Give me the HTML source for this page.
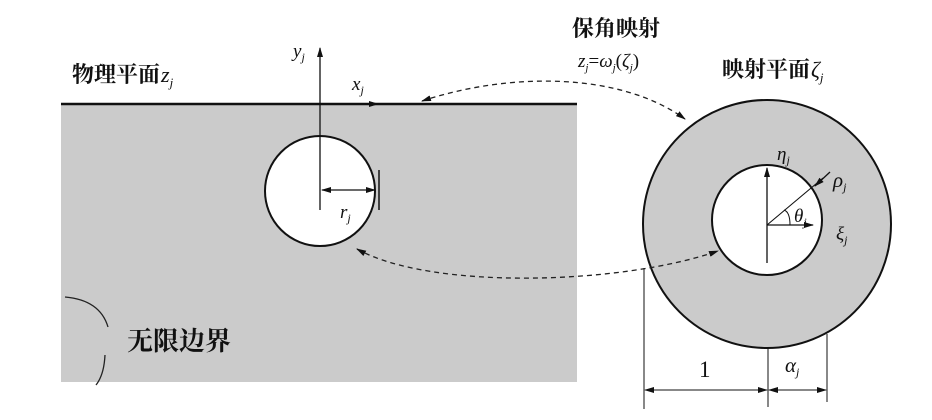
<!DOCTYPE html>
<html><head><meta charset="utf-8"><style>
body{margin:0;background:#fff}
.s{font-family:"Liberation Serif","DejaVu Serif",serif;fill:#111}
.cj{font-family:"Noto Serif CJK SC","Noto Sans CJK SC",serif;font-weight:bold;fill:#111}
</style></head><body>
<svg width="932" height="415" viewBox="0 0 932 415" xmlns="http://www.w3.org/2000/svg">
<defs><marker id="a" markerWidth="10" markerHeight="8" refX="9" refY="4" orient="auto-start-reverse" markerUnits="userSpaceOnUse"><path d="M0,1 L10,4 L0,7z" fill="#111"/></marker></defs>
<rect x="61" y="104" width="516" height="278" fill="#cbcbcb"/>
<line x1="61" y1="104" x2="577" y2="104" stroke="#111" stroke-width="2.5"/>
<circle cx="320" cy="191" r="55" fill="#fff" stroke="#111" stroke-width="2"/>
<line x1="320" y1="210" x2="320" y2="48" stroke="#111" stroke-width="1.3" marker-end="url(#a)"/>
<line x1="360" y1="104" x2="378" y2="104" stroke="#111" stroke-width="1" marker-end="url(#a)"/>
<line x1="322" y1="190" x2="375" y2="190" stroke="#111" stroke-width="1.2" marker-end="url(#a)" marker-start="url(#a)"/>
<line x1="379" y1="170" x2="379" y2="210" stroke="#111" stroke-width="1.5"/>
<text class="s" x="293" y="57" font-size="19" font-style="italic">y<tspan font-size="12" dy="4">j</tspan></text>
<text class="s" x="352" y="90" font-size="19" font-style="italic">x<tspan font-size="12" dy="4">j</tspan></text>
<text class="s" x="340" y="218" font-size="19" font-style="italic">r<tspan font-size="12" dy="4">j</tspan></text>
<text class="cj" x="72" y="82" font-size="22">物理平面</text><text class="s" x="161" y="82" font-size="22" font-style="italic">z<tspan font-size="13" dy="5">j</tspan></text>
<path d="M65,297 Q100,300 108,327" fill="none" stroke="#222" stroke-width="1.3"/>
<path d="M105,355 Q104,375 96,385" fill="none" stroke="#222" stroke-width="1.3"/>
<text class="cj" x="127" y="350" font-size="26">无限边界</text>
<circle cx="767" cy="224" r="124" fill="#cbcbcb" stroke="#111" stroke-width="2"/>
<circle cx="767" cy="220" r="55" fill="#fff" stroke="#111" stroke-width="2"/>
<line x1="767" y1="263" x2="767" y2="168" stroke="#111" stroke-width="1.3" marker-end="url(#a)"/>
<line x1="767" y1="225" x2="813" y2="225" stroke="#111" stroke-width="1.3" marker-end="url(#a)"/>
<line x1="767" y1="225" x2="823" y2="178" stroke="#111" stroke-width="1.1"/>
<line x1="830" y1="172" x2="815" y2="186" stroke="#111" stroke-width="1.3" marker-end="url(#a)"/>
<path d="M790,225 Q790,212 784,210" fill="none" stroke="#111" stroke-width="1"/>
<text class="s" x="777" y="160" font-size="19" font-style="italic">η<tspan font-size="12" dy="4">j</tspan></text>
<text class="s" x="833" y="187" font-size="21" font-style="italic">ρ<tspan font-size="12" dy="4">j</tspan></text>
<text class="s" x="794" y="222" font-size="19" font-style="italic">θ<tspan font-size="12" dy="4">j</tspan></text>
<text class="s" x="836" y="240" font-size="19" font-style="italic">ξ<tspan font-size="12" dy="4">j</tspan></text>
<line x1="644" y1="268" x2="644" y2="409" stroke="#111" stroke-width="1"/>
<line x1="768" y1="348" x2="768" y2="407" stroke="#111" stroke-width="1"/>
<line x1="827" y1="334" x2="827" y2="402" stroke="#111" stroke-width="1"/>
<line x1="645" y1="390" x2="767" y2="390" stroke="#111" stroke-width="1" marker-end="url(#a)" marker-start="url(#a)"/>
<line x1="769" y1="390" x2="826" y2="390" stroke="#111" stroke-width="1" marker-end="url(#a)" marker-start="url(#a)"/>
<text class="s" x="699" y="377" font-size="23">1</text>
<text class="s" x="785" y="372" font-size="21" font-style="italic">α<tspan font-size="12" dy="4">j</tspan></text>
<text class="cj" x="572" y="36" font-size="22">保角映射</text>
<text class="s" x="578" y="67" font-size="19" font-style="italic">z<tspan font-size="11" dy="4">j</tspan><tspan dy="-4" font-style="normal">=</tspan>ω<tspan font-size="11" dy="4">j</tspan><tspan dy="-4" font-style="normal">(</tspan>ζ<tspan font-size="11" dy="4">j</tspan><tspan dy="-4" font-style="normal">)</tspan></text>
<text class="cj" x="722" y="77" font-size="22">映射平面</text><text class="s" x="811" y="77" font-size="22" font-style="italic">ζ<tspan font-size="13" dy="5">j</tspan></text>
<path d="M422,101 C510,72 620,72 685,119" fill="none" stroke="#222" stroke-width="1.3" stroke-dasharray="5,4" marker-end="url(#a)" marker-start="url(#a)"/>
<path d="M357,249 C430,290 620,285 718,251" fill="none" stroke="#222" stroke-width="1.3" stroke-dasharray="5,4" marker-end="url(#a)" marker-start="url(#a)"/>
</svg>
</body></html>
